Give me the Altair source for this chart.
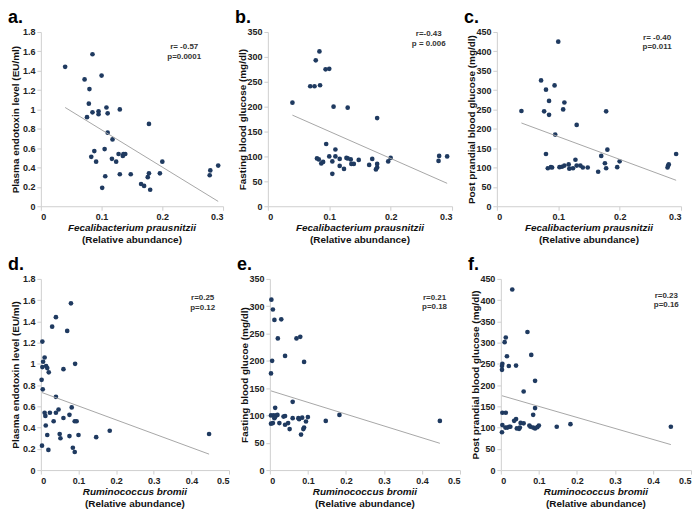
import altair as alt
import pandas as pd

FONT = "Liberation Sans"
POINT = "#1F3A60"
LINE = "#a6a6a6"

# ---- Panel a: F. prausnitzii vs plasma endotoxin
a_x = [0.040, 0.085, 0.072, 0.100, 0.080, 0.079, 0.076, 0.085, 0.095, 0.095, 0.108, 0.110, 0.130, 0.110,
       0.118, 0.178, 0.088, 0.083, 0.091, 0.105, 0.117, 0.124, 0.128, 0.135, 0.136, 0.139, 0.106, 0.130,
       0.148, 0.101, 0.165, 0.170, 0.180, 0.176, 0.178, 0.196, 0.200, 0.278, 0.279, 0.292]
a_y = [1.44, 1.57, 1.31, 1.35, 1.21, 1.06, 0.92, 0.97, 0.98, 0.95, 1.02, 0.96, 1.00, 0.76,
       0.69, 0.85, 0.57, 0.51, 0.46, 0.59, 0.49, 0.46, 0.54, 0.52, 0.54, 0.54, 0.31, 0.33,
       0.33, 0.19, 0.23, 0.21, 0.17, 0.30, 0.34, 0.34, 0.46, 0.32, 0.37, 0.42]
a_tx = [0.040, 0.292]
a_ty = [1.02, 0.05]

# ---- Panel b: F. prausnitzii vs fasting blood glucose
b_x = [0.040, 0.069, 0.076, 0.085, 0.078, 0.084, 0.094, 0.100, 0.107, 0.130, 0.178, 0.095, 0.110, 0.100,
       0.110, 0.080, 0.083, 0.087, 0.090, 0.105, 0.105, 0.117, 0.117, 0.128, 0.130, 0.135, 0.136, 0.140,
       0.124, 0.148, 0.165, 0.170, 0.176, 0.178, 0.178, 0.196, 0.200, 0.278, 0.279, 0.292]
b_y = [208, 241, 241, 243, 293, 311, 275, 276, 200, 198, 177, 125, 114, 100,
       100, 96, 94, 86, 89, 90, 65, 95, 81, 97, 96, 94, 85, 85,
       75, 93, 83, 95, 74, 78, 85, 90, 97, 91, 101, 100]
b_tx = [0.040, 0.292]
b_ty = [183, 46]

# ---- Panel c: F. prausnitzii vs post prandial blood glucose
c_x = [0.040, 0.100, 0.072, 0.080, 0.094, 0.085, 0.110, 0.108, 0.077, 0.085, 0.130, 0.095, 0.178, 0.080,
       0.180, 0.170, 0.128, 0.176, 0.200, 0.292, 0.278, 0.279, 0.280, 0.083, 0.088, 0.090, 0.102, 0.106,
       0.110, 0.117, 0.118, 0.124, 0.130, 0.136, 0.140, 0.148, 0.165, 0.178, 0.196]
c_y = [246, 425, 325, 301, 312, 272, 268, 250, 245, 236, 210, 185, 245, 135,
       146, 130, 120, 111, 116, 135, 100, 105, 108, 98, 101, 100, 101, 102,
       105, 108, 97, 98, 105, 105, 100, 100, 89, 98, 101]
c_tx = [0.040, 0.292]
c_ty = [215, 67]

# ---- Panel d: R. bromii vs plasma endotoxin
d_x = [0.080, 0.040, 0.030, 0.070, 0.004, 0.010, 0.006, 0.004, 0.014, 0.017, 0.021, 0.060, 0.091, 0.002,
       0.005, 0.040, 0.082, 0.047, 0.010, 0.012, 0.024, 0.040, 0.076, 0.060, 0.034, 0.090, 0.095, 0.013,
       0.050, 0.017, 0.052, 0.076, 0.100, 0.147, 0.183, 0.447, 0.003, 0.020, 0.085, 0.090]
d_y = [1.57, 1.44, 1.35, 1.31, 1.21, 1.06, 1.02, 0.97, 0.98, 0.96, 0.92, 0.95, 1.00, 0.85,
       0.76, 0.69, 0.59, 0.57, 0.54, 0.51, 0.54, 0.54, 0.52, 0.49, 0.46, 0.46, 0.46, 0.42,
       0.34, 0.33, 0.30, 0.32, 0.33, 0.31, 0.37, 0.34, 0.23, 0.19, 0.21, 0.17]
d_tx = [0.003, 0.447]
d_ty = [0.73, 0.15]

# ---- Panel e: R. bromii vs fasting blood glucose
e_x = [0.004, 0.008, 0.012, 0.030, 0.021, 0.070, 0.080, 0.040, 0.006, 0.090, 0.003, 0.060, 0.014, 0.003,
       0.010, 0.013, 0.017, 0.020, 0.036, 0.040, 0.075, 0.085, 0.100, 0.060, 0.077, 0.095, 0.090, 0.088,
       0.052, 0.082, 0.003, 0.008, 0.025, 0.040, 0.048, 0.012, 0.147, 0.183, 0.447]
e_y = [312, 294, 275, 276, 241, 241, 244, 209, 200, 198, 177, 125, 114, 100,
       100, 97, 100, 101, 98, 99, 95, 96, 97, 95, 93, 89, 78, 75,
       75, 65, 85, 86, 86, 83, 86, 95, 90, 101, 90]
e_tx = [0.003, 0.447]
e_ty = [145, 49]

# ---- Panel f: R. bromii vs post prandial blood glucose
f_x = [0.030, 0.070, 0.013, 0.010, 0.080, 0.016, 0.004, 0.003, 0.003, 0.021, 0.040, 0.090, 0.060, 0.090,
       0.004, 0.013, 0.085, 0.040, 0.035, 0.052, 0.060, 0.004, 0.012, 0.017, 0.022, 0.025, 0.042, 0.050,
       0.048, 0.075, 0.078, 0.085, 0.090, 0.096, 0.100, 0.003, 0.147, 0.183, 0.447]
f_y = [425, 325, 312, 301, 271, 268, 250, 245, 236, 245, 246, 210, 185, 146,
       135, 135, 130, 120, 116, 111, 110, 106, 100, 100, 102, 102, 98, 100,
       97, 105, 102, 100, 98, 101, 105, 89, 102, 108, 102]
f_tx = [0.003, 0.447]
f_ty = [175, 60]

# ---- Axis ticks and labels
x_ticks_fp = [0, 0.1, 0.2, 0.3]
x_ticks_rb = [0, 0.1, 0.2, 0.3, 0.4, 0.5]
y_ticks_endo = [0, 0.2, 0.4, 0.6, 0.8, 1, 1.2, 1.4, 1.6, 1.8]
y_ticks_fbg = [0, 50, 100, 150, 200, 250, 300, 350]
y_ticks_ppbg = [0, 50, 100, 150, 200, 250, 300, 350, 400, 450]

title_endo = "Plasma endotoxin level (EU/ml)"
title_fbg = "Fasting blood glucose (mg/dl)"
title_fbg_e = "Fasting blood glucoe (mg/dl)"
title_ppbg = "Post prandial blood glucose (mg/dl)"
species_fp = "Fecalibacterium  prausnitzii"
species_rb = "Ruminococcus  bromii"
sub_title = "(Relative abundance)"
letters = ["a.", "b.", "c.", "d.", "e.", "f."]

# ---- r / p annotations (text, x, y of each line)
ann_a = (["r= -0.57", "p=0.0001"], [0.236, 0.236], [1.64, 1.545])
ann_b = (["r=-0.43", "p = 0.006"], [0.262, 0.262], [345, 326])
ann_c = (["r= -0.40", "p=0.011"], [0.261, 0.261], [434, 410])
ann_d = (["r=0.25", "p=0.12"], [0.43, 0.43], [1.62, 1.53])
ann_e = (["r=0.21", "p=0.18"], [0.433, 0.433], [315, 298])
ann_f = (["r=0.23", "p=0.16"], [0.435, 0.435], [410, 388])


def panel(xs, ys, tx, ty, ann, xticks, yticks, yfmt, ytitle, species, letter, w, h):
    xenc = alt.X("x:Q", scale=alt.Scale(domain=[xticks[0], xticks[-1]], nice=False),
                 axis=alt.Axis(values=xticks, format=".1~f", title=None))
    yenc = alt.Y("y:Q", scale=alt.Scale(domain=[yticks[0], yticks[-1]], nice=False),
                 axis=alt.Axis(values=yticks, format=yfmt, title=ytitle,
                               titleX=-20, titleY=h / 2))
    pts = alt.Chart(pd.DataFrame({"x": xs, "y": ys})).mark_circle(
        size=22, color=POINT, opacity=1).encode(x=xenc, y=yenc)
    trend = alt.Chart(pd.DataFrame({"x": tx, "y": ty})).mark_line(
        color=LINE, strokeWidth=1).encode(x=xenc, y=yenc)
    ann_df = pd.DataFrame({"t": ann[0], "x": ann[1], "y": ann[2]})
    annt = alt.Chart(ann_df).mark_text(
        font=FONT, fontSize=8, fontWeight="bold", color="#333333").encode(
        x=xenc, y=yenc, text="t:N")
    t1 = alt.Chart(pd.DataFrame({"t": [species]})).mark_text(
        font=FONT, fontSize=10, fontWeight="bold", fontStyle="italic", color="#111111",
        baseline="middle").encode(x=alt.value(w / 2), y=alt.value(h + 22), text="t:N")
    t2 = alt.Chart(pd.DataFrame({"t": [sub_title]})).mark_text(
        font=FONT, fontSize=10, fontWeight="bold", color="#111111",
        baseline="middle").encode(x=alt.value(w / 2), y=alt.value(h + 34), text="t:N")
    lab = alt.Chart(pd.DataFrame({"t": [letter]})).mark_text(
        font=FONT, fontSize=18, fontWeight="bold", color="#000000", align="left",
        baseline="alphabetic").encode(x=alt.value(-33), y=alt.value(-9), text="t:N")
    return alt.layer(pts, trend, annt, t1, t2, lab).properties(width=w, height=h)


H1 = 175
H2 = 192
pa = panel(a_x, a_y, a_tx, a_ty, ann_a, x_ticks_fp, y_ticks_endo, ".1~f", title_endo, species_fp, letters[0], 183, H1)
pb = panel(b_x, b_y, b_tx, b_ty, ann_b, x_ticks_fp, y_ticks_fbg, "d", title_fbg, species_fp, letters[1], 185, H1)
pc = panel(c_x, c_y, c_tx, c_ty, ann_c, x_ticks_fp, y_ticks_ppbg, "d", title_ppbg, species_fp, letters[2], 185, H1)
pd_ = panel(d_x, d_y, d_tx, d_ty, ann_d, x_ticks_rb, y_ticks_endo, ".1~f", title_endo, species_rb, letters[3], 189, H2)
pe = panel(e_x, e_y, e_tx, e_ty, ann_e, x_ticks_rb, y_ticks_fbg, "d", title_fbg_e, species_rb, letters[4], 191, H2)
pf = panel(f_x, f_y, f_tx, f_ty, ann_f, x_ticks_rb, y_ticks_ppbg, "d", title_ppbg, species_rb, letters[5], 191, H2)

row1 = alt.hconcat(pa, pb, pc, spacing=45, bounds="flush")
row2 = alt.hconcat(pd_, pe, pf, spacing=41, bounds="flush")

chart = alt.vconcat(row1, row2, spacing=11).properties(
    padding=0, background="white"
).configure_axis(
    grid=False,
    domainColor="#cfcfcf",
    tickColor="#cfcfcf",
    tickSize=4,
    labelFont=FONT,
    labelFontSize=9,
    labelFontWeight="bold",
    labelColor="#222222",
    labelPadding=2,
    titleFont=FONT,
    titleFontSize=10,
    titleFontWeight="bold",
    titleColor="#111111",
).configure_view(strokeWidth=0)

chart.save("out.html", embed_options={"renderer": "svg", "actions": False})
